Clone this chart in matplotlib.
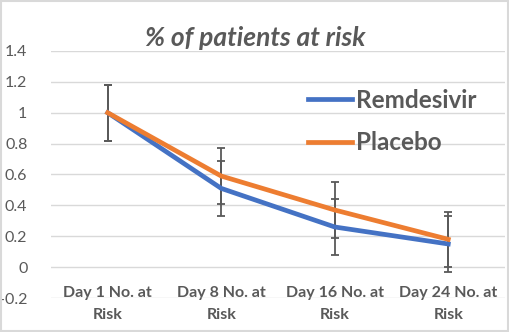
import numpy as np
import matplotlib.pyplot as plt
from matplotlib.lines import Line2D
from matplotlib.patches import Rectangle

plt.rcParams['font.family'] = ['Lato', 'DejaVu Sans']

days = ["Day 1 No. at\nRisk", "Day 8 No. at\nRisk", "Day 16 No. at\nRisk", "Day 24 No. at\nRisk"]
remdesivir = [1.0, 0.51, 0.26, 0.15]
placebo = [1.0, 0.59, 0.37, 0.18]
err = 0.18

grey = "#595959"
blue = "#4472C4"
orange = "#ED7D31"

fig = plt.figure(figsize=(5.09, 3.32), dpi=100)
ax = fig.add_axes([51 / 509, 1 - 298 / 332, 454 / 509, 247 / 332])

x = np.arange(len(days))
ax.errorbar(x, remdesivir, yerr=err, color=blue, lw=3.4, ecolor=grey,
            elinewidth=1.3, capsize=3, capthick=1.3, zorder=3)
ax.errorbar(x, placebo, yerr=err, color=orange, lw=3.4, ecolor=grey,
            elinewidth=1.3, capsize=3, capthick=1.3, zorder=3)

ax.set_xlim(-0.5, len(days) - 0.5)
ax.set_ylim(-0.2, 1.4)
ax.set_yticks(np.arange(-0.2, 1.41, 0.2))
ax.set_yticklabels(["-0.2", "0", "0.2", "0.4", "0.6", "0.8", "1", "1.2", "1.4"])
ax.set_xticks(x)
ax.set_xticklabels(days, fontweight="bold", fontsize=11.5, color=grey, linespacing=1.75)
ax.tick_params(axis="y", length=0, labelsize=11.5, labelcolor=grey, pad=17)
ax.tick_params(axis="x", length=0, pad=-9)
ax.grid(axis="y", color="#D9D9D9", lw=1)
ax.set_axisbelow(True)
for s in ax.spines.values():
    s.set_visible(False)

fig.text(255 / 509, 1 - 38 / 332, "% of patients at risk", fontsize=19, fontweight="bold",
         fontstyle="italic", color=grey, ha="center", va="center")

handles = [Line2D([], [], color=blue, lw=3.4), Line2D([], [], color=orange, lw=3.4)]
leg = fig.legend(handles, ["Remdesivir", "Placebo"], loc="upper left",
                 bbox_to_anchor=(286 / 509, 1 - 67 / 332), frameon=False,
                 fontsize=17.5, handlelength=1.8, handletextpad=0.2, labelspacing=0.8)
for t in leg.get_texts():
    t.set_fontweight("bold")
    t.set_color(grey)

fig.patches.append(Rectangle((0.002, 0.003), 0.996, 0.994, transform=fig.transFigure,
                             fill=False, edgecolor="#D9D9D9", lw=1.5))

fig.savefig("out.png", dpi=100)
